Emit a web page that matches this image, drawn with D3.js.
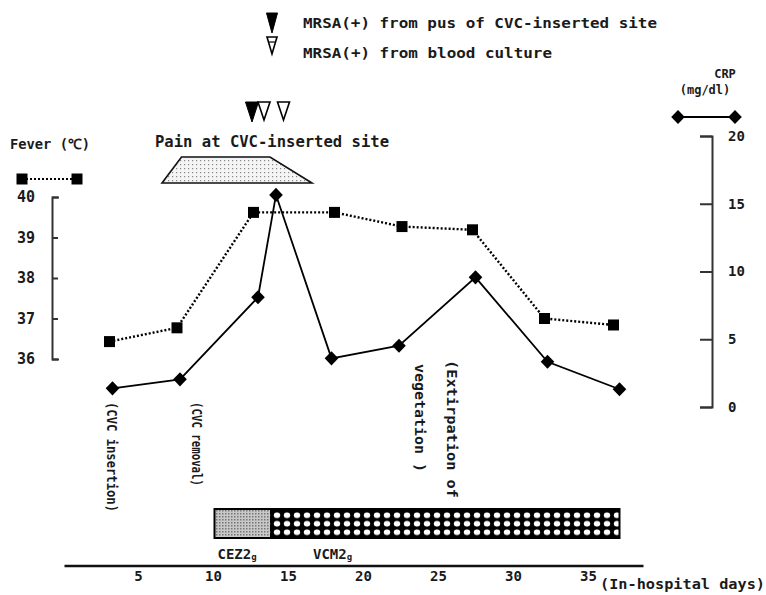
<!DOCTYPE html>
<html><head><meta charset="utf-8">
<script src="https://cdn.jsdelivr.net/npm/d3@7"></script>
<style>body{margin:0;background:#fff}svg{display:block}text{font-family:"DejaVu Sans Mono",monospace;fill:#1a1a1a}</style>
</head><body>
<script>
// ---- data ----
const feverDays = [3.1, 7.6, 12.7, 18.1, 22.6, 27.3, 32.1, 36.7];
const feverValues = [36.43, 36.77, 39.62, 39.62, 39.27, 39.19, 37.0, 36.84];
const crpDays = [3.3, 7.8, 13.0, 14.2, 17.9, 22.4, 27.5, 32.3, 37.1];
const crpValues = [1.38, 2.04, 8.1, 15.65, 3.59, 4.52, 9.57, 3.34, 1.31];
const feverTicks = [36, 37, 38, 39, 40];
const crpTicks = [0, 5, 10, 15, 20];
const dayTicks = [5, 10, 15, 20, 25, 30, 35];
const mrsaPusDays = [12.6];
const mrsaBloodDays = [13.4, 14.7];
const painDays = [6.6, 7.9, 13.8, 16.6]; // bottom-left, top-left, top-right, bottom-right
const cezDays = [10.1, 13.8];
const vcmDays = [13.8, 37.1];
const eventLabels = [
  {day: 3.27, text: "(CVC insertion)", len: 110, top: 402},
  {day: 8.9, text: "(CVC removal)", len: 84, top: 402},
  {day: 23.8, text: "vegetation )", len: 108, top: 364},
  {day: 25.9, text: "(Extirpation of", len: 138, top: 360}
];

const W = 766, H = 595;
const svg = d3.select("body").append("svg").attr("width", W).attr("height", H);
svg.append("rect").attr("width", W).attr("height", H).attr("fill", "#fff");

const x = d3.scaleLinear().domain([10, 35]).range([213, 588]);
const yF = d3.scaleLinear().domain([36, 40]).range([359, 197]);
const yC = d3.scaleLinear().domain([0, 20]).range([407, 136]);

const defs = svg.append("defs");
const pCez = defs.append("pattern").attr("id", "cez").attr("patternUnits", "userSpaceOnUse").attr("width", 3).attr("height", 3);
pCez.append("rect").attr("width", 3).attr("height", 3).attr("fill", "#c8c8c8");
pCez.append("rect").attr("width", 1.5).attr("height", 1.5).attr("fill", "#777");
const pVcm = defs.append("pattern").attr("id", "vcm").attr("patternUnits", "userSpaceOnUse").attr("width", 10).attr("height", 8.5).attr("x", 2).attr("y", 511);
pVcm.append("rect").attr("width", 10).attr("height", 8.5).attr("fill", "#000");
pVcm.append("ellipse").attr("cx", 5).attr("cy", 4.25).attr("rx", 3.2).attr("ry", 2.8).attr("fill", "#fff");
const pPain = defs.append("pattern").attr("id", "pain").attr("patternUnits", "userSpaceOnUse").attr("width", 4).attr("height", 4);
pPain.append("rect").attr("width", 4).attr("height", 4).attr("fill", "#f4f4f4");
pPain.append("rect").attr("width", 1.2).attr("height", 1.2).attr("fill", "#888");

// ---- top legend ----
function tri(g, cx, top, w, h, filled) {
  g.append("path").attr("d", `M${cx - w / 2},${top}L${cx + w / 2},${top}L${cx},${top + h}Z`)
    .attr("fill", filled ? "#000" : "#fff").attr("stroke", "#000").attr("stroke-width", filled ? 1 : 1.6);
}
tri(svg, 272, 13, 11, 20, true);
tri(svg, 272, 37, 10, 17, false);
svg.append("line").attr("x1", 268).attr("x2", 276).attr("y1", 42).attr("y2", 42).attr("stroke", "#000").attr("stroke-width", 1.2);
svg.append("text").attr("x", 303).attr("y", 28).attr("font-size", 14).attr("font-weight", "bold")
  .attr("textLength", 354).attr("lengthAdjust", "spacingAndGlyphs").text("MRSA(+) from pus of CVC-inserted site");
svg.append("text").attr("x", 303).attr("y", 58).attr("font-size", 14).attr("font-weight", "bold")
  .attr("textLength", 249).attr("lengthAdjust", "spacingAndGlyphs").text("MRSA(+) from blood culture");

// MRSA markers over chart
mrsaPusDays.forEach(d => tri(svg, x(d), 102, 13, 20, true));
mrsaBloodDays.forEach(d => tri(svg, x(d), 102, 12, 18, false));

// Pain
svg.append("text").attr("x", 155).attr("y", 147).attr("font-size", 15).attr("font-weight", "bold")
  .attr("textLength", 234).attr("lengthAdjust", "spacingAndGlyphs").text("Pain at CVC-inserted site");
svg.append("path")
  .attr("d", `M${x(painDays[0])},183L${x(painDays[1])},157L${x(painDays[2])},157L${x(painDays[3])},183Z`)
  .attr("fill", "url(#pain)").attr("stroke", "#111").attr("stroke-width", 1.6);

// ---- fever legend & axis ----
svg.append("text").attr("x", 10).attr("y", 149).attr("font-size", 14).attr("font-weight", "bold")
  .attr("textLength", 80).attr("lengthAdjust", "spacingAndGlyphs").text("Fever (℃)");
svg.append("line").attr("x1", 22).attr("x2", 77).attr("y1", 179).attr("y2", 179)
  .attr("stroke", "#000").attr("stroke-width", 2.2).attr("stroke-dasharray", "2,2");
[22, 77].forEach(cx => svg.append("rect").attr("x", cx - 5.5).attr("y", 173.5).attr("width", 11).attr("height", 11).attr("fill", "#000"));

const axF = svg.append("g").attr("transform", "translate(52,0)")
  .call(d3.axisLeft(yF).tickValues(feverTicks).tickSizeInner(-6).tickSizeOuter(-7).tickPadding(17).tickFormat(d3.format("d")));
axF.selectAll("path,line").attr("stroke", "#333").attr("stroke-width", 2);
axF.selectAll("text").attr("font-size", 15).attr("font-weight", "bold").attr("font-family", "DejaVu Sans Mono").attr("fill", "#222");

// ---- CRP legend & axis ----
svg.append("text").attr("x", 725).attr("y", 78).attr("font-size", 12).attr("font-weight", "bold").attr("text-anchor", "middle").text("CRP");
svg.append("text").attr("x", 705).attr("y", 94).attr("font-size", 12).attr("font-weight", "bold").attr("text-anchor", "middle").text("(mg/dl)");
svg.append("line").attr("x1", 678).attr("x2", 735).attr("y1", 117).attr("y2", 117).attr("stroke", "#000").attr("stroke-width", 2);
const diamond = d3.symbol().type(d3.symbolDiamond).size(95);
const dScale = "scale(1.3,0.78)";
[678, 735].forEach(cx => svg.append("path").attr("d", diamond).attr("transform", `translate(${cx},117) ${dScale}`).attr("fill", "#000"));

const axC = svg.append("g").attr("transform", "translate(712,0)")
  .call(d3.axisRight(yC).tickValues(crpTicks).tickSizeInner(-12).tickSizeOuter(-12).tickPadding(16).tickFormat(d3.format("d")));
axC.selectAll("path,line").attr("stroke", "#333").attr("stroke-width", 2);
axC.selectAll("text").attr("font-size", 14).attr("font-weight", "bold").attr("font-family", "DejaVu Sans Mono").attr("fill", "#222");

// ---- series ----
const feverPts = feverDays.map((d, i) => [x(d), yF(feverValues[i])]);
const crpPts = crpDays.map((d, i) => [x(d), yC(crpValues[i])]);
svg.append("path").attr("d", d3.line()(feverPts)).attr("fill", "none").attr("stroke", "#000")
  .attr("stroke-width", 2.4).attr("stroke-dasharray", "2,2");
svg.append("path").attr("d", d3.line()(crpPts)).attr("fill", "none").attr("stroke", "#000").attr("stroke-width", 1.8);
svg.selectAll(".sq").data(feverPts).enter().append("rect")
  .attr("x", p => p[0] - 5.5).attr("y", p => p[1] - 5.5).attr("width", 11).attr("height", 11).attr("fill", "#000");
svg.selectAll(".dm").data(crpPts).enter().append("path").attr("d", diamond)
  .attr("transform", p => `translate(${p[0]},${p[1]}) ${dScale}`).attr("fill", "#000");

// ---- event labels (vertical) ----
eventLabels.forEach(e => {
  svg.append("text").attr("transform", `translate(${x(e.day) - 5},${e.top}) rotate(90)`)
    .attr("font-size", 14).attr("font-weight", "bold")
    .attr("textLength", e.len).attr("lengthAdjust", "spacingAndGlyphs").text(e.text);
});

// ---- antibiotic bars ----
svg.append("rect").attr("x", x(cezDays[0])).attr("y", 509).attr("width", x(cezDays[1]) - x(cezDays[0])).attr("height", 29)
  .attr("fill", "url(#cez)");
svg.append("rect").attr("x", x(vcmDays[0])).attr("y", 509).attr("width", x(vcmDays[1]) - x(vcmDays[0])).attr("height", 29)
  .attr("fill", "url(#vcm)");
svg.append("rect").attr("x", x(cezDays[0])).attr("y", 509).attr("width", x(vcmDays[1]) - x(cezDays[0])).attr("height", 29)
  .attr("fill", "none").attr("stroke", "#000").attr("stroke-width", 2);
function drugLabel(px, name) {
  const t = svg.append("text").attr("x", px).attr("y", 559).attr("font-size", 14).attr("font-weight", "bold");
  t.append("tspan").text(name);
  t.append("tspan").attr("font-size", 9).attr("dy", 1).text("g");
}
drugLabel(x(cezDays[0]) + 3, "CEZ2");
drugLabel(313, "VCM2");

// ---- x axis ----
svg.append("line").attr("x1", x(0.1)).attr("x2", x(38.7)).attr("y1", 566).attr("y2", 566).attr("stroke", "#111").attr("stroke-width", 2.5);
const axX = svg.append("g").attr("transform", "translate(0,566)")
  .call(d3.axisBottom(x).tickValues(dayTicks).tickSize(0).tickPadding(5).tickFormat(d3.format("d")));
axX.select(".domain").remove();
axX.selectAll("text").attr("font-size", 14).attr("font-weight", "bold").attr("font-family", "DejaVu Sans Mono").attr("fill", "#222");
svg.append("text").attr("x", 600).attr("y", 589).attr("font-size", 14).attr("font-weight", "bold")
  .attr("textLength", 165).attr("lengthAdjust", "spacingAndGlyphs").text("(In-hospital days)");
</script>
</body></html>
